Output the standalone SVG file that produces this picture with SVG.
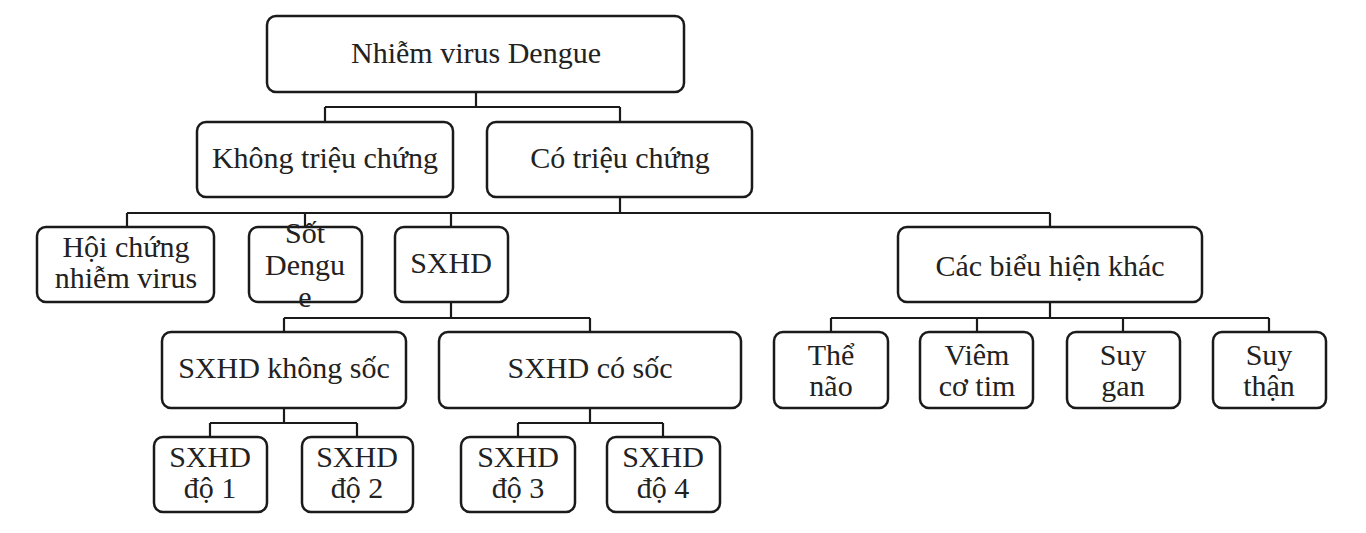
<svg xmlns="http://www.w3.org/2000/svg" width="1366" height="533" viewBox="0 0 1366 533">
<style>
  .box { fill: #ffffff; stroke: #1a1a1a; stroke-width: 2.5; }
  .t { font-family: "Liberation Serif", "Times New Roman", serif; font-size: 30px; fill: #222222; text-anchor: middle; }
  .c { fill: none; stroke: #1a1a1a; stroke-width: 2.2; }
</style>
<rect width="1366" height="533" fill="#ffffff"/>
<g id="connectors">
  <path class="c" d="M476 92 V107 M325 107 H620 M325 107 V122 M620 107 V122"/>
  <path class="c" d="M620 197 V213 M127 213 H1050 M127 213 V227 M305 213 V227 M451 213 V227 M1050 213 V227"/>
  <path class="c" d="M451 302 V318 M284 318 H590 M284 318 V332 M590 318 V332"/>
  <path class="c" d="M1050 302 V318 M831 318 H1269 M831 318 V332 M977 318 V332 M1123 318 V332 M1269 318 V332"/>
  <path class="c" d="M284 408 V423 M210 423 H357 M210 423 V437 M357 423 V437"/>
  <path class="c" d="M590 408 V423 M518 423 H663 M518 423 V437 M663 423 V437"/>
</g>
<g id="root">
  <rect class="box" x="267" y="16" width="417" height="76" rx="9"/>
  <text class="t" x="476" y="63">Nhiễm virus Dengue</text>
</g>
<g id="khong-trieu-chung">
  <rect class="box" x="197" y="122" width="256" height="75" rx="9"/>
  <text class="t" x="325" y="168">Không triệu chứng</text>
</g>
<g id="co-trieu-chung">
  <rect class="box" x="487" y="122" width="265" height="75" rx="9"/>
  <text class="t" x="620" y="168">Có triệu chứng</text>
</g>
<g id="hoi-chung">
  <rect class="box" x="37" y="227" width="177" height="75" rx="9"/>
  <text class="t" x="126" y="257">Hội chứng</text>
  <text class="t" x="126" y="288">nhiễm virus</text>
</g>
<g id="sot-dengue">
  <rect class="box" x="249" y="227" width="113" height="75" rx="9"/>
  <text class="t" x="305" y="243">Sốt</text>
  <text class="t" x="305" y="275">Dengu</text>
  <text class="t" x="305" y="307">e</text>
</g>
<g id="sxhd">
  <rect class="box" x="395" y="227" width="113" height="75" rx="9"/>
  <text class="t" x="451" y="273">SXHD</text>
</g>
<g id="cac-bieu-hien-khac">
  <rect class="box" x="898" y="227" width="304" height="75" rx="9"/>
  <text class="t" x="1050" y="276">Các biểu hiện khác</text>
</g>
<g id="sxhd-khong-soc">
  <rect class="box" x="162" y="332" width="244" height="76" rx="9"/>
  <text class="t" x="284" y="378">SXHD không sốc</text>
</g>
<g id="sxhd-co-soc">
  <rect class="box" x="439" y="332" width="302" height="76" rx="9"/>
  <text class="t" x="590" y="378">SXHD có sốc</text>
</g>
<g id="the-nao">
  <rect class="box" x="774" y="332" width="114" height="76" rx="9"/>
  <text class="t" x="831" y="365">Thể</text>
  <text class="t" x="831" y="396">não</text>
</g>
<g id="viem-co-tim">
  <rect class="box" x="920" y="332" width="113" height="76" rx="9"/>
  <text class="t" x="977" y="365">Viêm</text>
  <text class="t" x="977" y="396">cơ tim</text>
</g>
<g id="suy-gan">
  <rect class="box" x="1067" y="332" width="113" height="76" rx="9"/>
  <text class="t" x="1123" y="365">Suy</text>
  <text class="t" x="1123" y="396">gan</text>
</g>
<g id="suy-than">
  <rect class="box" x="1213" y="332" width="113" height="76" rx="9"/>
  <text class="t" x="1269" y="365">Suy</text>
  <text class="t" x="1269" y="396">thận</text>
</g>
<g id="sxhd-do-1">
  <rect class="box" x="154" y="437" width="113" height="75" rx="9"/>
  <text class="t" x="210" y="467">SXHD</text>
  <text class="t" x="210" y="498">độ 1</text>
</g>
<g id="sxhd-do-2">
  <rect class="box" x="302" y="437" width="111" height="75" rx="9"/>
  <text class="t" x="357" y="467">SXHD</text>
  <text class="t" x="357" y="498">độ 2</text>
</g>
<g id="sxhd-do-3">
  <rect class="box" x="461" y="437" width="114" height="75" rx="9"/>
  <text class="t" x="518" y="467">SXHD</text>
  <text class="t" x="518" y="498">độ 3</text>
</g>
<g id="sxhd-do-4">
  <rect class="box" x="607" y="437" width="113" height="75" rx="9"/>
  <text class="t" x="663" y="467">SXHD</text>
  <text class="t" x="663" y="498">độ 4</text>
</g>
</svg>
